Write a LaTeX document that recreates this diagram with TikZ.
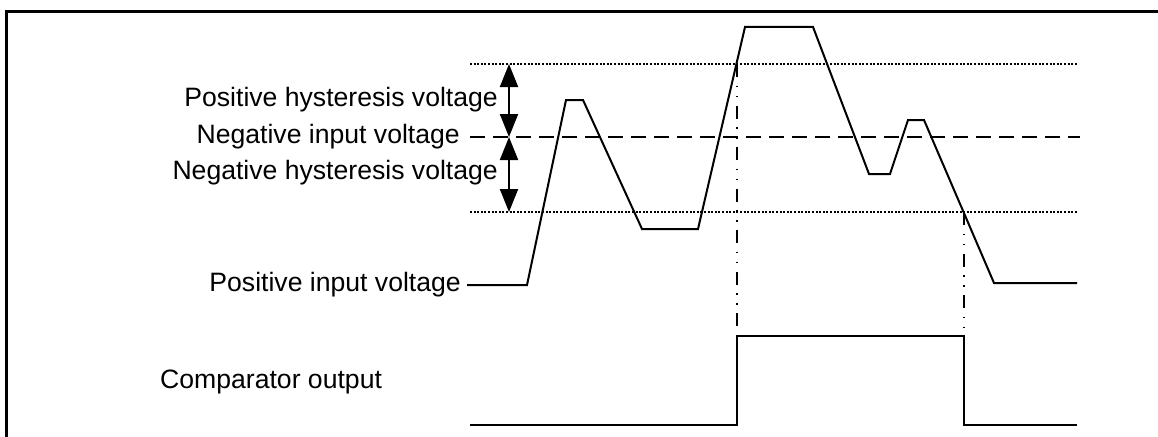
\documentclass[tikz,border=0pt]{standalone}
\usepackage{fontspec}
\setmainfont{Liberation Sans}
\usetikzlibrary{arrows.meta}
\begin{document}
\begin{tikzpicture}[x=1pt,y=-1pt,
  lbl/.style={anchor=east,inner sep=0pt,font=\fontsize{26.6pt}{30pt}\selectfont},
  wave/.style={line width=2pt,line join=miter},
  thr/.style={line width=1.8pt,dash pattern=on 2pt off 1.6pt},
  ref/.style={line width=1.6pt,dash pattern=on 15pt off 8pt},
  mark line/.style={line width=1.6pt,dash pattern=on 13pt off 8.5pt on 1.5pt off 8.5pt on 1.5pt off 8.5pt},
  dbl/.style={line width=2pt,{Triangle[width=18pt,length=23pt]}-{Triangle[width=18pt,length=23pt]}},
  frame/.style={line width=3pt}]
\useasboundingbox (0,0) rectangle (1158,436);
% frame
\draw[frame] (6,440) -- (6,12) -- (1162,12);
% labels
\node[lbl] (lph) at (498,100) {Positive hysteresis voltage};
\node[lbl] (lni) at (460,137) {Negative input voltage};
\node[lbl] (lnh) at (498,173) {Negative hysteresis voltage};
\node[lbl] (lpi) at (461,285) {Positive input voltage};
\node[lbl,anchor=west] (lco) at (160,382) {Comparator output};
% reference coordinates
\coordinate (ut0) at (470,64);  \coordinate (ut1) at (1077,64);
\coordinate (rf0) at (470,137); \coordinate (rf1) at (1080,137);
\coordinate (lt0) at (470,212); \coordinate (lt1) at (1077,212);
\coordinate (ht) at (509,64); \coordinate (hm) at (509,137); \coordinate (hb) at (509,212);
% threshold lines
\draw[thr] (ut0) -- (ut1);
\draw[thr] (lt0) -- (lt1);
\draw[ref] (rf0) -- (rf1);
% hysteresis arrows
\draw[dbl] (ht) -- (hm);
\draw[dbl] (hm) -- (hb);
% input waveform
\draw[wave] (467,285) -- (527,285) -- (566,100) -- (583,100) -- (642,229) -- (698,229)
  -- (745,27) -- (813,27) -- (869,174) -- (890,174) -- (908,120) -- (924,120)
  -- (994,283) -- (1077,283);
% crossing markers
\coordinate (c1) at (737,64); \coordinate (c1b) at (737,330);
\coordinate (c2) at (964,212); \coordinate (c2b) at (964,330);
\draw[mark line] (c1) -- (c1b);
\draw[mark line] (c2) -- (c2b);
% output waveform
\draw[wave] (470,425) -- (737,425) -- (737,336) -- (964,336) -- (964,425) -- (1077,425);
\end{tikzpicture}
\end{document}
